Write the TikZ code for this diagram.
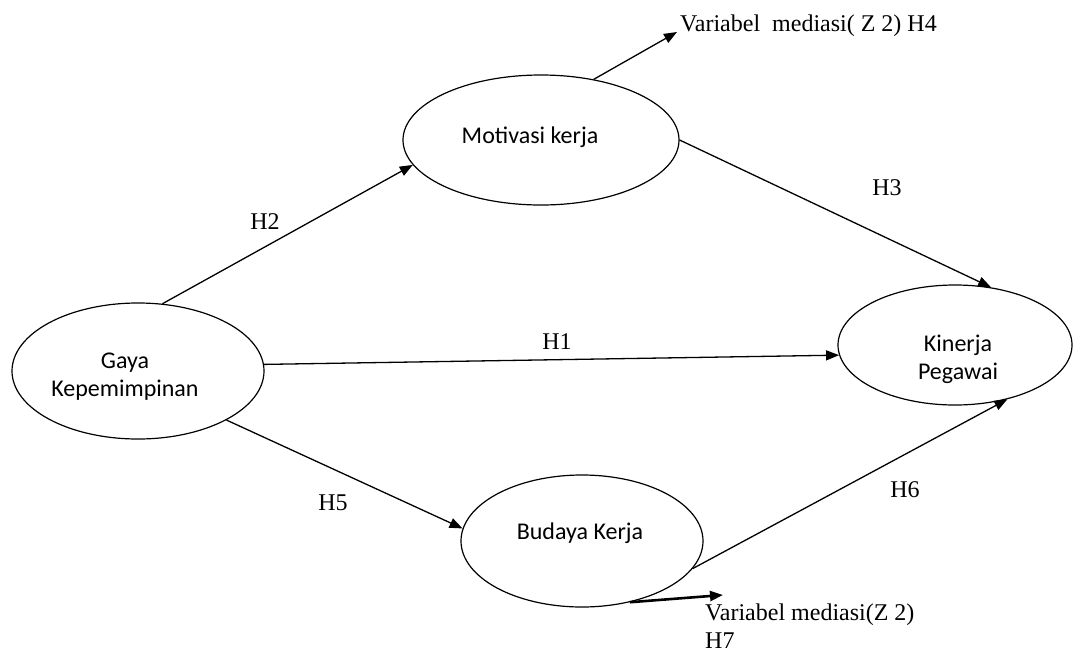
\documentclass[tikz,border=0pt]{standalone}
\usepackage{fontspec}
\setmainfont{Liberation Serif}
\newfontfamily\calib{Carlito}
\usetikzlibrary{arrows.meta,shapes.geometric}
\begin{document}
\begin{tikzpicture}[x=1pt,y=-1pt,
  var/.style={ellipse,draw,line width=1.2pt,inner sep=0pt},
  vtext/.style={align=center,inner sep=0pt,font=\calib\fontsize{24}{28}\selectfont},
  conn/.style={line width=1.3pt,-{Triangle[length=13pt,width=10pt]}},
  hyp/.style={font=\fontsize{24}{28}\selectfont,inner sep=0pt},
  note/.style={font=\fontsize{24}{28}\selectfont,inner sep=0pt,align=left}]
\useasboundingbox (0,0) rectangle (1073,654);
\node[var,minimum width=252pt,minimum height=136pt,
  label={[vtext,xshift=-13pt,yshift=-6pt]center:Gaya\\Kepemimpinan}] (gaya) at (138,371) {};
\node[var,minimum width=276pt,minimum height=130pt,
  label={[vtext,xshift=-11pt,yshift=3pt]center:Motivasi kerja}] (mot) at (541,140) {};
\node[var,minimum width=234pt,minimum height=120pt,
  label={[vtext,xshift=3pt,yshift=-14pt]center:Kinerja\\Pegawai}] (kin) at (955,345) {};
\node[var,minimum width=242pt,minimum height=132pt,
  label={[vtext,xshift=-2pt,yshift=8pt]center:Budaya Kerja}] (bud) at (582,541) {};

\coordinate (h4end) at (677,32);
\coordinate (h7end) at (723,595);
\node[note,anchor=west] (h4txt) at (680,26) {Variabel\ \ mediasi( Z 2) H4};
\node[note,anchor=north west] (h7txt) at (705,604) {Variabel mediasi(Z 2)\\H7};

\draw[conn] (gaya.70) -- (mot.191);
\draw[conn] (gaya.3) -- (kin.185);
\draw[conn] (gaya.-29) -- (bud.174);
\draw[conn] (mot.-0.5) -- (kin.58);
\draw[conn] (bud.-14.4) -- (kin.-46);
\draw[conn] (mot.49) -- (h4end);
\draw[line width=2.6pt,-{Triangle[length=13pt,width=10pt]}] (bud.-52) -- (h7end);

\node[hyp] (H1) at (557,342) {H1};
\node[hyp] (H2) at (265,222) {H2};
\node[hyp] (H3) at (887,188) {H3};
\node[hyp] (H5) at (333,503) {H5};
\node[hyp] (H6) at (905,490) {H6};
\end{tikzpicture}
\end{document}
